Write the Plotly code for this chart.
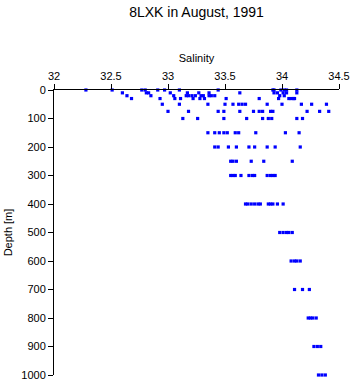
import plotly.graph_objects as go

# Salinity profiles by depth (m)
depth_0 = [32.28, 32.51, 32.77, 32.80, 32.91, 32.97, 33.10, 33.44, 33.92, 33.93, 33.99, 34.02, 34.04, 34.13]
depth_10 = [32.60, 32.81, 32.83, 33.02, 33.17, 33.27, 33.36, 33.63, 33.93, 33.96, 34.01, 34.04, 34.13]
depth_20 = [32.64, 32.85, 33.05, 33.16, 33.18, 33.21, 33.24, 33.29, 33.31, 33.36, 33.38, 33.41, 33.98, 34.02]
depth_30 = [32.68, 32.93, 33.06, 33.11, 33.22, 33.28, 33.32, 33.51, 33.80, 33.97, 34.06, 34.08, 34.10, 34.11]
depth_50 = [32.95, 33.10, 33.35, 33.50, 33.57, 33.62, 33.65, 33.68, 33.87, 34.00, 34.17, 34.26, 34.39]
depth_75 = [33.00, 33.18, 33.44, 33.49, 33.63, 33.75, 33.80, 33.83, 33.90, 33.92, 34.22, 34.33, 34.41]
depth_100 = [33.13, 33.26, 33.49, 33.69, 33.83, 33.88, 33.91, 34.13, 34.18]
depth_150 = [33.35, 33.41, 33.45, 33.49, 33.52, 33.59, 33.62, 33.77, 34.03, 34.15]
depth_200 = [33.41, 33.44, 33.53, 33.60, 33.71, 33.76, 33.87, 33.94, 34.16]
depth_250 = [33.55, 33.57, 33.60, 33.73, 33.84, 34.09]
depth_300 = [33.55, 33.57, 33.59, 33.64, 33.71, 33.74, 33.76, 33.87, 33.90, 33.92, 33.94]
depth_400 = [33.68, 33.70, 33.73, 33.76, 33.79, 33.81, 33.88, 33.90, 33.92, 33.96, 34.01]
depth_500 = [33.98, 34.01, 34.04, 34.06, 34.09]
depth_600 = [34.08, 34.11, 34.13, 34.16]
depth_700 = [34.11, 34.18, 34.24]
depth_800 = [34.23, 34.25, 34.27, 34.30]
depth_900 = [34.28, 34.31, 34.34]
depth_1000 = [34.32, 34.35, 34.38]

levels = [0, 10, 20, 30, 50, 75, 100, 150, 200, 250, 300, 400, 500, 600, 700, 800, 900, 1000]
profiles = [depth_0, depth_10, depth_20, depth_30, depth_50, depth_75, depth_100, depth_150,
            depth_200, depth_250, depth_300, depth_400, depth_500, depth_600, depth_700,
            depth_800, depth_900, depth_1000]

xs, ys = [], []
for d, sal in zip(levels, profiles):
    for s in sal:
        xs.append(s)
        ys.append(d)

x_ticks = [32, 32.5, 33, 33.5, 34, 34.5]
y_ticks = [0, 100, 200, 300, 400, 500, 600, 700, 800, 900, 1000]

font = "Liberation Sans, Arial, sans-serif"

fig = go.Figure(go.Scatter(
    x=xs, y=ys, mode="markers",
    marker=dict(symbol="square", size=3.2, color="#0000FF", line=dict(width=0)),
    cliponaxis=False,
))

fig.update_layout(
    width=353, height=384,
    margin=dict(l=54, r=14, t=90, b=9, autoexpand=False),
    paper_bgcolor="white", plot_bgcolor="white",
    showlegend=False,
    font=dict(family=font, size=11, color="black"),
    title=dict(text="8LXK in August, 1991", x=0.5, xref="paper", y=1 - 12 / 384,
               yref="container", yanchor="middle", font=dict(size=14, family=font, color="black")),
    xaxis=dict(
        side="top", range=[32, 34.5], tickvals=x_ticks, ticktext=[str(v) for v in x_ticks],
        showgrid=False, zeroline=False, showline=True, linecolor="black", linewidth=1,
        ticks="outside", ticklen=5, tickcolor="black", automargin=False,
        title=dict(text="Salinity", standoff=4, font=dict(size=11)),
        mirror=False,
    ),
    yaxis=dict(
        range=[1000, 0], tickvals=y_ticks,
        showgrid=False, zeroline=False, showline=True, linecolor="black", linewidth=1,
        ticks="outside", ticklen=5, tickcolor="black", automargin=False,
        title=dict(text="Depth [m]", standoff=6, font=dict(size=11)),
    ),
)

fig.write_html("out.html")
